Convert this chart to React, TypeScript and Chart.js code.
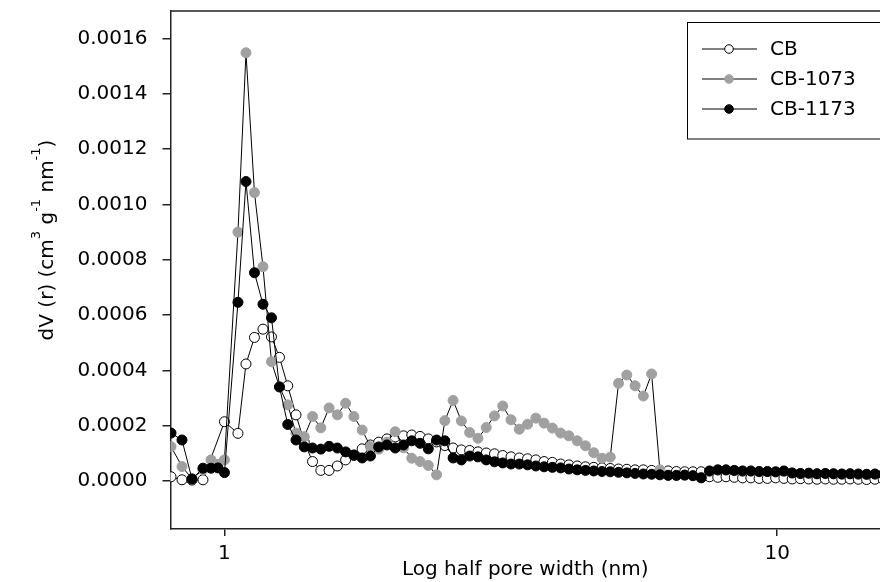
import React, { useEffect, useRef } from 'react';
import { Chart, registerables } from 'chart.js';

Chart.register(...registerables);

// ---- data ----
const poreWidth = [
  0.8011, 0.8386, 0.8742, 0.9151, 0.9462, 0.9741, 1.0008, 1.0587, 1.0946, 1.134,
  1.1749, 1.2172, 1.2584, 1.3025, 1.3481, 1.3953, 1.4442, 1.4948, 1.5472, 1.6014,
  1.6575, 1.7155, 1.7756, 1.8378, 1.9022, 1.9688, 2.0378, 2.1092, 2.1831, 2.2596,
  2.3387, 2.4207, 2.5055, 2.5932, 2.6841, 2.7783, 2.8756, 2.9764, 3.0806, 3.1886,
  3.3003, 3.4159, 3.5356, 3.6595, 3.7877, 3.9204, 4.0578, 4.1999, 4.3471, 4.4994,
  4.657, 4.8202, 4.989, 5.1638, 5.3447, 5.532, 5.7258, 5.9264, 6.134, 6.3489,
  6.5714, 6.8016, 7.0399, 7.2865, 7.5418, 7.806, 8.0795, 8.3626, 8.6555, 8.9588,
  9.2727, 9.5975, 9.9338, 10.282, 10.642, 11.015, 11.401, 11.8, 12.214, 12.641,
  13.084, 13.543, 14.017, 14.508, 15.017, 15.543,
];

const cbValues = [
  0.000015, 0.000004, 0.000003, 0.000004, null, null, 0.000214, 0.000172, 0.000423, 0.000519,
  0.000549, 0.000521, 0.000447, 0.000344, 0.000239, 0.00014, 0.00007, 0.000038, 0.000038, 0.000054,
  0.000076, 0.000092, 0.000116, 0.00013, 0.00014, 0.000152, 0.000159, 0.000163, 0.000166, 0.000161,
  0.000152, 0.000141, 0.000128, 0.000119, 0.000112, 0.00011, 0.000105, 0.000101, 0.000098, 0.000092,
  0.000087, 0.000083, 0.00008, 0.000076, 0.00007, 0.000067, 0.000061, 0.000058, 0.000054, 0.000051,
  0.000049, 0.000047, 0.000045, 0.000043, 0.000042, 0.00004, 0.00004, 0.000038, 0.000036, 0.000036,
  0.000034, 0.000033, 0.000033, 0.000033, 0.000015, 0.000013, 0.000015, 0.000013, 0.000011, 0.000011,
  0.000009, 0.000009, 0.000011, 0.000009, 0.000007, 0.000008, 0.000007, 0.000006, 0.000007, 0.000006,
  0.000006, 0.000007, 0.000006, 0.000005, 0.000006, 0.000006,
];

const cb1073Values = [
  0.000124, 0.000052, 0.000008, 0.00004, 0.000076, 0.00006, 0.000076, 0.0009, 0.001549, 0.001043,
  0.000775, 0.000431, 0.00034, 0.000275, 0.000173, 0.00016, 0.000233, 0.000192, 0.000264, 0.000239,
  0.000281, 0.000233, 0.000184, 0.000124, 0.000115, 0.00014, 0.000178, 0.00012, 0.000082, 0.00007,
  0.000056, 0.000022, 0.000218, 0.000291, 0.000217, 0.000175, 0.000154, 0.000193, 0.000235, 0.000271,
  0.000221, 0.000187, 0.000205, 0.000227, 0.000209, 0.000191, 0.000173, 0.000163, 0.000145, 0.000127,
  0.000102, 0.000082, 0.000086, 0.000353, 0.000383, 0.000344, 0.000307, 0.000387, 0.00004, 0.000021,
  0.00002, 0.000021, 0.000019, 0.000013, 0.000035, 0.000039, 0.000039, 0.000037, 0.000035, 0.000035,
  0.000033, 0.000033, 0.000032, 0.000034, 0.000028, 0.000026, 0.000027, 0.000025, 0.000026, 0.000025,
  0.000024, 0.000025, 0.000024, 0.000023, 0.000024, 0.000023,
];

const cb1173Values = [
  0.000173, 0.000148, 0.000007, 0.000046, 0.000046, 0.000047, 0.00003, 0.000646, 0.001083, 0.000753,
  0.000639, 0.00059, 0.00034, 0.000204, 0.000148, 0.000123, 0.000119, 0.000115, 0.000125, 0.000119,
  0.000105, 0.000094, 0.000083, 0.00009, 0.000123, 0.00013, 0.000119, 0.00013, 0.000145, 0.000136,
  0.000116, 0.000148, 0.000145, 0.000083, 0.000076, 0.00009, 0.000087, 0.000076, 0.000069, 0.000065,
  0.000061, 0.000061, 0.000058, 0.000054, 0.000051, 0.000049, 0.000047, 0.000043, 0.00004, 0.000038,
  0.000036, 0.000034, 0.000033, 0.000031, 0.000029, 0.000027, 0.000025, 0.000024, 0.000022, 0.00002,
  0.00002, 0.000021, 0.000019, 0.000011, 0.000036, 0.00004, 0.00004, 0.000038, 0.000036, 0.000036,
  0.000034, 0.000034, 0.000033, 0.000036, 0.000029, 0.000027, 0.000028, 0.000026, 0.000027, 0.000026,
  0.000025, 0.000026, 0.000025, 0.000024, 0.000025, 0.000024,
];

const seriesNames = ['CB', 'CB-1073', 'CB-1173'];
const yTickValues = [0, 0.0002, 0.0004, 0.0006, 0.0008, 0.001, 0.0012, 0.0014, 0.0016];
const xTickValues = [1, 10];
const xTitle = 'Log half pore width (nm)';
const yTitleParts = [
  { text: 'dV (r) (cm', sup: false },
  { text: '3', sup: true },
  { text: ' g', sup: false },
  { text: '-1', sup: true },
  { text: ' nm', sup: false },
  { text: '-1', sup: true },
  { text: ')', sup: false },
];

const FONT = "'DejaVu Sans', 'Liberation Sans', sans-serif";
const AXIS_COLOR = '#222';

const framePlugin = {
  id: 'framePlugin',
  afterDraw(chart: any) {
    const { ctx, chartArea } = chart;
    ctx.save();
    // top frame line
    ctx.strokeStyle = AXIS_COLOR;
    ctx.lineWidth = 1.5;
    ctx.beginPath();
    ctx.moveTo(chartArea.left, chartArea.top);
    ctx.lineTo(chartArea.right + 2, chartArea.top);
    ctx.stroke();

    // x axis title
    ctx.fillStyle = '#000';
    ctx.font = `20px ${FONT}`;
    ctx.textAlign = 'center';
    ctx.textBaseline = 'alphabetic';
    ctx.fillText(xTitle, (chartArea.left + chartArea.right) / 2, 575);

    // y axis title with superscripts
    ctx.translate(53, 240);
    ctx.rotate(-Math.PI / 2);
    ctx.textAlign = 'left';
    const mainFont = `20px ${FONT}`;
    const supFont = `13px ${FONT}`;
    let total = 0;
    for (const p of yTitleParts) {
      ctx.font = p.sup ? supFont : mainFont;
      total += ctx.measureText(p.text).width;
    }
    let x = -total / 2;
    for (const p of yTitleParts) {
      ctx.font = p.sup ? supFont : mainFont;
      ctx.fillText(p.text, x, p.sup ? -13 : 0);
      x += ctx.measureText(p.text).width;
    }
    ctx.restore();

    // legend box
    ctx.save();
    ctx.strokeStyle = '#000';
    ctx.lineWidth = 1;
    ctx.strokeRect(687.5, 22.5, 260, 116.5);
    const rows = [49, 79, 109];
    chart.data.datasets.forEach((ds: any, i: number) => {
      const y = rows[i];
      ctx.strokeStyle = '#000';
      ctx.lineWidth = 1;
      ctx.beginPath();
      ctx.moveTo(702, y);
      ctx.lineTo(757, y);
      ctx.stroke();
      ctx.beginPath();
      ctx.arc(729, y, 4.3, 0, Math.PI * 2);
      ctx.fillStyle = ds.pointBackgroundColor;
      ctx.fill();
      ctx.strokeStyle = ds.pointBorderColor;
      ctx.stroke();
      ctx.fillStyle = '#000';
      ctx.font = `20px ${FONT}`;
      ctx.textAlign = 'left';
      ctx.textBaseline = 'middle';
      ctx.fillText(ds.label, 770, y + 1);
    });
    ctx.restore();
  },
};

function toPoints(values: (number | null)[]) {
  return poreWidth.map((x, i) => ({ x, y: values[i] }));
}

export default function App() {
  const canvasRef = useRef<HTMLCanvasElement | null>(null);

  useEffect(() => {
    const canvas = canvasRef.current;
    if (!canvas) return;
    const common = {
      borderColor: '#000',
      borderWidth: 1,
      pointRadius: 5,
      pointBorderWidth: 1,
      pointHoverRadius: 5,
      spanGaps: true,
      fill: false,
      tension: 0,
    };
    const chart = new Chart(canvas, {
      type: 'line',
      data: {
        datasets: [
          {
            ...common,
            label: seriesNames[0],
            data: toPoints(cbValues),
            pointBackgroundColor: '#ffffff',
            pointBorderColor: '#000000',
            order: 3,
          },
          {
            ...common,
            label: seriesNames[1],
            data: toPoints(cb1073Values),
            pointBackgroundColor: '#a0a0a0',
            pointBorderColor: '#a0a0a0',
            order: 2,
          },
          {
            ...common,
            label: seriesNames[2],
            data: toPoints(cb1173Values),
            pointBackgroundColor: '#000000',
            pointBorderColor: '#000000',
            order: 1,
          },
        ],
      },
      options: {
        responsive: false,
        animation: false,
        devicePixelRatio: 1,
        parsing: false,
        layout: { autoPadding: false, padding: { top: 11, right: 0, bottom: 0, left: 0 } },
        plugins: {
          legend: { display: false },
          tooltip: { enabled: false },
          title: { display: false },
        },
        scales: {
          x: {
            type: 'logarithmic',
            min: 0.7994,
            max: 15.34,
            bounds: 'data',
            afterBuildTicks: (s: any) => {
              s.ticks = xTickValues.map((v) => ({ value: v }));
            },
            afterFit: (s: any) => {
              s.height = 53;
              s.paddingLeft = 0;
              s.paddingRight = 0;
            },
            ticks: {
              callback: (v: any) => String(v),
              font: { family: FONT, size: 20 },
              color: '#000',
              padding: 6,
              maxRotation: 0,
              autoSkip: false,
            },
            grid: {
              drawOnChartArea: false,
              drawTicks: true,
              tickLength: 7,
              color: AXIS_COLOR,
              lineWidth: 1.5,
            },
            border: { display: true, color: AXIS_COLOR, width: 1.5 },
          },
          y: {
            type: 'linear',
            min: -0.000174,
            max: 0.0017,
            bounds: 'data',
            afterBuildTicks: (s: any) => {
              s.ticks = yTickValues.map((v) => ({ value: v }));
            },
            afterFit: (s: any) => {
              s.width = 170.5;
              s.paddingTop = 0;
              s.paddingBottom = 0;
            },
            ticks: {
              callback: (v: any) => Number(v).toFixed(4),
              font: { family: FONT, size: 20 },
              color: '#000',
              padding: 15,
            },
            grid: {
              drawOnChartArea: false,
              drawTicks: true,
              tickLength: 8,
              color: AXIS_COLOR,
              lineWidth: 1.5,
            },
            border: { display: true, color: AXIS_COLOR, width: 1.5 },
          },
        },
      } as any,
      plugins: [framePlugin],
    });
    return () => chart.destroy();
  }, []);

  return (
    <div style={{ position: 'fixed', left: 0, top: 0, width: 880, height: 582, background: '#fff', overflow: 'hidden' }}>
      <canvas ref={canvasRef} width={880} height={582} style={{ display: 'block', width: 880, height: 582 }} />
    </div>
  );
}
